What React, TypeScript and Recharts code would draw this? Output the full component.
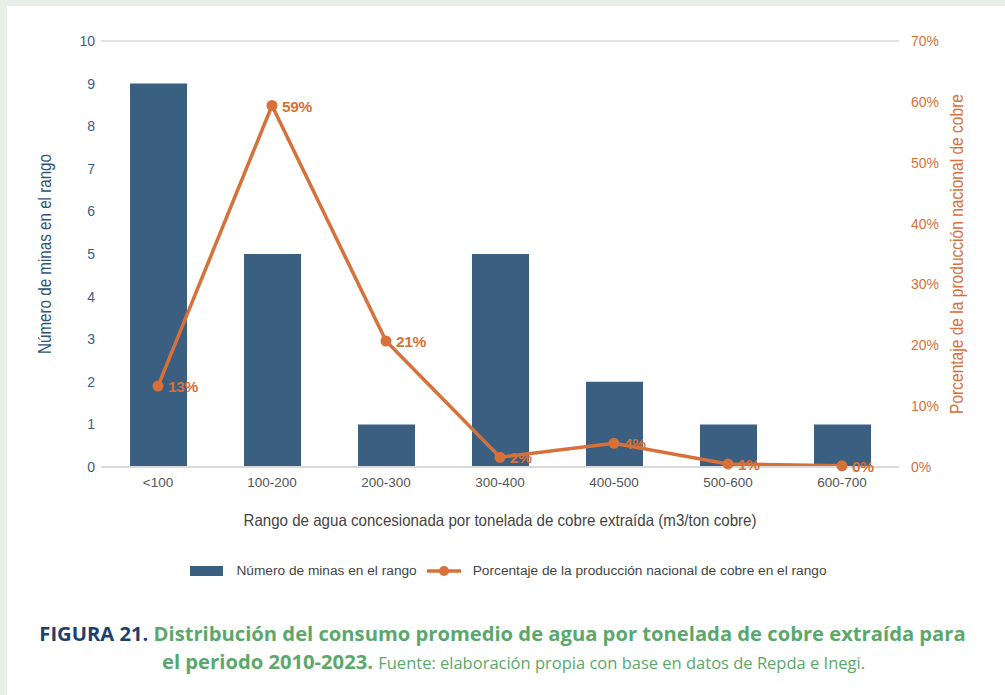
import { ComposedChart, Bar, Line, XAxis, YAxis, CartesianGrid, LabelList } from "recharts";

const ranges = ["<100", "100-200", "200-300", "300-400", "400-500", "500-600", "600-700"];
const mines = [9, 5, 1, 5, 2, 1, 1];
const shares = [13.3, 59.4, 20.7, 1.6, 3.9, 0.5, 0.2];
const leftTicks = [0, 1, 2, 3, 4, 5, 6, 7, 8, 9, 10];
const rightTicks = [0, 10, 20, 30, 40, 50, 60, 70];

const data = ranges.map((r, i) => ({ range: r, mines: mines[i], share: shares[i] }));

const BLUE = "#3a5f80";
const ORANGE = "#d8703a";
const FONT = "'Liberation Sans', Arial, sans-serif";

const pctLabel = (props: any) => {
  const { x, y, value } = props;
  return (
    <text x={x + 10} y={y + 6} fill={ORANGE} fontSize={15.5} fontWeight={700} fontFamily={FONT} letterSpacing={-0.4}>
      {Math.round(value)}%
    </text>
  );
};

// condensed axis titles, squeezed with textLength like the narrow face in the original
const leftTitle = ({ viewBox }: any) => {
  const cx = viewBox.x + 45;
  const cy = viewBox.y + viewBox.height / 2;
  return (
    <text x={cx} y={cy} transform={`rotate(-90 ${cx} ${cy})`} textAnchor="middle" dominantBaseline="central"
      fill="#2f5378" fontSize={17.5} fontFamily={FONT} textLength={200} lengthAdjust="spacingAndGlyphs">
      Número de minas en el rango
    </text>
  );
};

const rightTitle = ({ viewBox }: any) => {
  const cx = viewBox.x + 58;
  const cy = viewBox.y + viewBox.height / 2;
  return (
    <text x={cx} y={cy} transform={`rotate(-90 ${cx} ${cy})`} textAnchor="middle" dominantBaseline="central"
      fill={ORANGE} fontSize={17.5} fontFamily={FONT} textLength={320} lengthAdjust="spacingAndGlyphs">
      Porcentaje de la producción nacional de cobre
    </text>
  );
};

const bottomTitle = ({ viewBox }: any) => {
  const cx = viewBox.x + viewBox.width / 2;
  const cy = viewBox.y + 53;
  return (
    <text x={cx} y={cy} textAnchor="middle" dominantBaseline="central"
      fill="#444" fontSize={16.5} fontFamily={FONT} textLength={513} lengthAdjust="spacingAndGlyphs">
      Rango de agua concesionada por tonelada de cobre extraída (m3/ton cobre)
    </text>
  );
};

export default function App() {
  return (
    <div style={{ position: "fixed", left: 0, top: 0, width: 1005, height: 695, background: "#e8efe8" }}>
      <div style={{ position: "absolute", left: 7, top: 6, width: 998, height: 689, background: "#fff" }} />
      <div style={{ position: "absolute", left: 0, top: 0 }}>
        <ComposedChart width={1005} height={600} data={data} margin={{ top: 41, right: 26, bottom: 103, left: 0 }}>
          <CartesianGrid vertical={false} stroke="#d9d9d9" strokeWidth={1.5} />
          <XAxis
            dataKey="range"
            height={30}
            tickLine={false}
            tickSize={0}
            tickMargin={10}
            axisLine={{ stroke: "#d9d9d9", strokeWidth: 2 }}
            tick={{ fill: "#555", fontSize: 13.5, fontFamily: FONT }}
            label={{ content: bottomTitle }}
          />
          <YAxis
            yAxisId="left"
            width={101}
            domain={[0, 10]}
            ticks={leftTicks}
            interval={0}
            axisLine={false}
            tickLine={false}
            tickSize={0}
            tickMargin={6}
            tick={{ fill: "#3b5e85", fontSize: 14, fontFamily: FONT }}
            label={{ content: leftTitle }}
          />
          <YAxis
            yAxisId="right"
            orientation="right"
            width={80}
            domain={[0, 70]}
            ticks={rightTicks}
            interval={0}
            axisLine={false}
            tickLine={false}
            tickSize={0}
            tickMargin={12}
            tickFormatter={(v: number) => `${v}%`}
            tick={{ fill: ORANGE, fontSize: 14, fontFamily: FONT }}
            label={{ content: rightTitle }}
          />
          <Bar yAxisId="left" dataKey="mines" fill={BLUE} barSize={57} isAnimationActive={false} />
          <Line
            yAxisId="right"
            dataKey="share"
            stroke={ORANGE}
            strokeWidth={3.5}
            dot={{ r: 5.5, fill: ORANGE, stroke: ORANGE, strokeWidth: 0 }}
            isAnimationActive={false}
          >
            <LabelList dataKey="share" content={pctLabel} />
          </Line>
        </ComposedChart>
      </div>
      <div
        style={{
          position: "absolute",
          left: 0,
          top: 563,
          width: 1005,
          paddingLeft: 12,
          boxSizing: "border-box",
          display: "flex",
          justifyContent: "center",
          alignItems: "center",
          fontFamily: FONT,
          fontSize: 13.7,
          color: "#444",
        }}
      >
        <span style={{ display: "inline-block", width: 33, height: 10, background: BLUE, marginRight: 13 }} />
        <span style={{ marginRight: 10 }}>Número de minas en el rango</span>
        <svg width={34} height={12} style={{ marginRight: 12 }}>
          <line x1={0} y1={6} x2={34} y2={6} stroke={ORANGE} strokeWidth={3.5} />
          <circle cx={17} cy={6} r={5} fill={ORANGE} />
        </svg>
        <span>Porcentaje de la producción nacional de cobre en el rango</span>
      </div>
      <div
        style={{
          position: "absolute",
          left: 0,
          top: 619,
          width: 1005,
          textAlign: "center",
          fontFamily: "'Open Sans', sans-serif",
          fontSize: 20.2,
          lineHeight: "28px",
          color: "#5ba86c",
          fontWeight: 700,
        }}
      >
        <div>
          <span style={{ color: "#1f3f70" }}>FIGURA 21.</span> Distribución del consumo promedio de agua por tonelada de cobre extraída para
        </div>
        <div style={{ paddingLeft: 22 }}>
          el periodo 2010-2023. <span style={{ fontWeight: 400, fontSize: 16.5 }}>Fuente: elaboración propia con base en datos de Repda e Inegi.</span>
        </div>
      </div>
    </div>
  );
}
